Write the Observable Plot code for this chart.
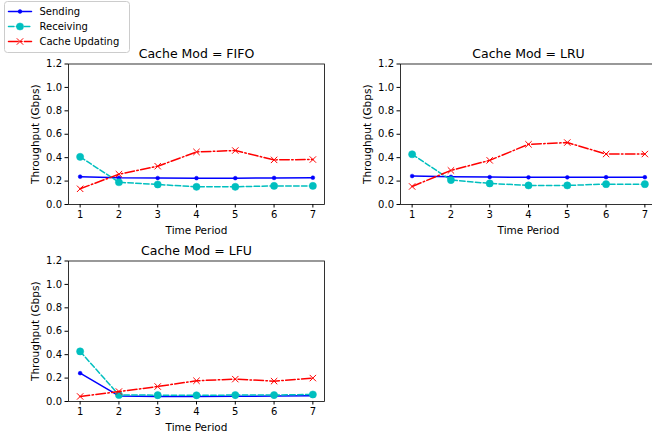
<!DOCTYPE html>
<html><head><meta charset="utf-8">
<script src="https://cdn.jsdelivr.net/npm/d3@7"></script>
<script src="https://cdn.jsdelivr.net/npm/@observablehq/plot@0.6"></script>
<style>
html,body{margin:0;padding:0;overflow:hidden;background:#fff}
#fig{position:relative;width:652px;height:438px;overflow:hidden;background:#fff;font-family:"DejaVu Sans",sans-serif}
#fig > div{position:absolute}
#fig svg{max-width:none;overflow:visible}
</style></head><body><div id="fig"></div>
<script>
// ---- data ----
const periods = [1, 2, 3, 4, 5, 6, 7];
const seriesNames = ["Sending", "Receiving", "Cache Updating"];
const yTicks = [0, 0.2, 0.4, 0.6, 0.8, 1.0, 1.2];
const panelTitles = ["Cache Mod = FIFO", "Cache Mod = LRU", "Cache Mod = LFU"];

const fifoSending   = [0.238, 0.228, 0.226, 0.225, 0.225, 0.227, 0.229];
const fifoReceiving = [0.407, 0.190, 0.171, 0.151, 0.151, 0.159, 0.159];
const fifoCache     = [0.134, 0.259, 0.327, 0.449, 0.461, 0.381, 0.384];

const lruSending    = [0.243, 0.236, 0.234, 0.232, 0.232, 0.233, 0.233];
const lruReceiving  = [0.429, 0.209, 0.180, 0.163, 0.163, 0.174, 0.174];
const lruCache      = [0.154, 0.291, 0.377, 0.514, 0.529, 0.431, 0.431];

const lfuSending    = [0.242, 0.048, 0.043, 0.043, 0.044, 0.046, 0.049];
const lfuReceiving  = [0.428, 0.056, 0.054, 0.053, 0.055, 0.055, 0.060];
const lfuCache      = [0.043, 0.085, 0.128, 0.177, 0.191, 0.174, 0.200];

// ---- styles ----
const styles = [
  {name: "Sending", color: "#0000ff", dash: null, symbol: "circle", r: 1.9, fill: "#0000ff", stroke: "#0000ff", sw: 0.5},
  {name: "Receiving", color: "#00bfbf", dash: "5.5,2.4", symbol: "circle", r: 3.6, fill: "#00bfbf", stroke: "#00bfbf", sw: 0.5},
  {name: "Cache Updating", color: "#ff0000", dash: "9.6,2.4,1.5,2.4", symbol: "times", r: 3, fill: "none", stroke: "#ff0000", sw: 1}
];

const fig = document.getElementById("fig");
function place(node, left, top, w) {
  const d = document.createElement("div");
  d.style.left = left + "px"; d.style.top = top + "px"; d.style.width = w + "px";
  d.appendChild(node); fig.appendChild(d);
}

function panel(title, values) {
  const marks = [
    Plot.frame({stroke: "black", strokeWidth: 0.8}),
    Plot.axisX({ticks: periods, tickFormat: "d", tickSize: 3.5, tickPadding: 3, label: null, fontSize: 10}),
    Plot.axisY({ticks: yTicks, tickFormat: ".1f", tickSize: 3.5, tickPadding: 3, label: null, fontSize: 10}),
    Plot.text(["Time Period"], {text: d => d, frameAnchor: "bottom", textAnchor: "middle", lineAnchor: "middle", dy: 26, fontSize: 10.5}),
    Plot.text(["Throughput (Gbps)"], {text: d => d, frameAnchor: "left", textAnchor: "middle", lineAnchor: "middle", rotate: -90, dx: -33, fontSize: 10.5}),
    Plot.text([title], {text: d => d, frameAnchor: "top", textAnchor: "middle", lineAnchor: "middle", dy: -10, fontSize: 12.5})
  ];
  styles.forEach((st, i) => {
    const rows = periods.map((p, j) => ({period: p, value: values[i][j], series: seriesNames[i]}));
    marks.push(Plot.line(rows, {x: "period", y: "value", stroke: st.color, strokeWidth: 1.5, strokeDasharray: st.dash}));
    marks.push(Plot.dot(rows, {x: "period", y: "value", symbol: st.symbol, r: st.r, fill: st.fill, stroke: st.stroke, strokeWidth: st.sw}));
  });
  return Plot.plot({
    width: 330, height: 200,
    marginLeft: 68, marginRight: 6, marginTop: 23.5, marginBottom: 36,
    style: {fontFamily: "DejaVu Sans", fontSize: "10px", color: "black", background: "transparent", maxWidth: "none"},
    x: {domain: [0.7, 7.3]},
    y: {domain: [0, 1.2]},
    marks
  });
}

place(panel(panelTitles[0], [fifoSending, fifoReceiving, fifoCache]), 0, 40, 330);
place(panel(panelTitles[1], [lruSending, lruReceiving, lruCache]), 332, 40, 330);
place(panel(panelTitles[2], [lfuSending, lfuReceiving, lfuCache]), 0, 237, 330);

// ---- legend ----
const legendMarks = [Plot.frame({stroke: "#cccccc", fill: "white", fillOpacity: 0.8, rx: 3, strokeWidth: 1})];
styles.forEach((st) => {
  const seg = [{x: 0, s: st.name}, {x: 1, s: st.name}];
  legendMarks.push(Plot.line(seg, {x: "x", y: "s", stroke: st.color, strokeWidth: 1.5, strokeDasharray: st.dash}));
  legendMarks.push(Plot.dot([{x: 0.5, s: st.name}], {x: "x", y: "s", symbol: st.symbol, r: st.r, fill: st.fill, stroke: st.stroke, strokeWidth: st.sw}));
  legendMarks.push(Plot.text([{x: 1, s: st.name}], {x: "x", y: "s", text: "s", textAnchor: "start", lineAnchor: "middle", dx: 8, fontSize: 10}));
});
place(Plot.plot({
  width: 125, height: 51, margin: 0,
  style: {fontFamily: "DejaVu Sans", fontSize: "10px", color: "black", background: "transparent", maxWidth: "none"},
  x: {domain: [0, 1], range: [4, 27], axis: null},
  y: {type: "point", domain: seriesNames, range: [9.5, 40.5], padding: 0, axis: null},
  marks: legendMarks
}), 4, 1, 125);
</script></body></html>
